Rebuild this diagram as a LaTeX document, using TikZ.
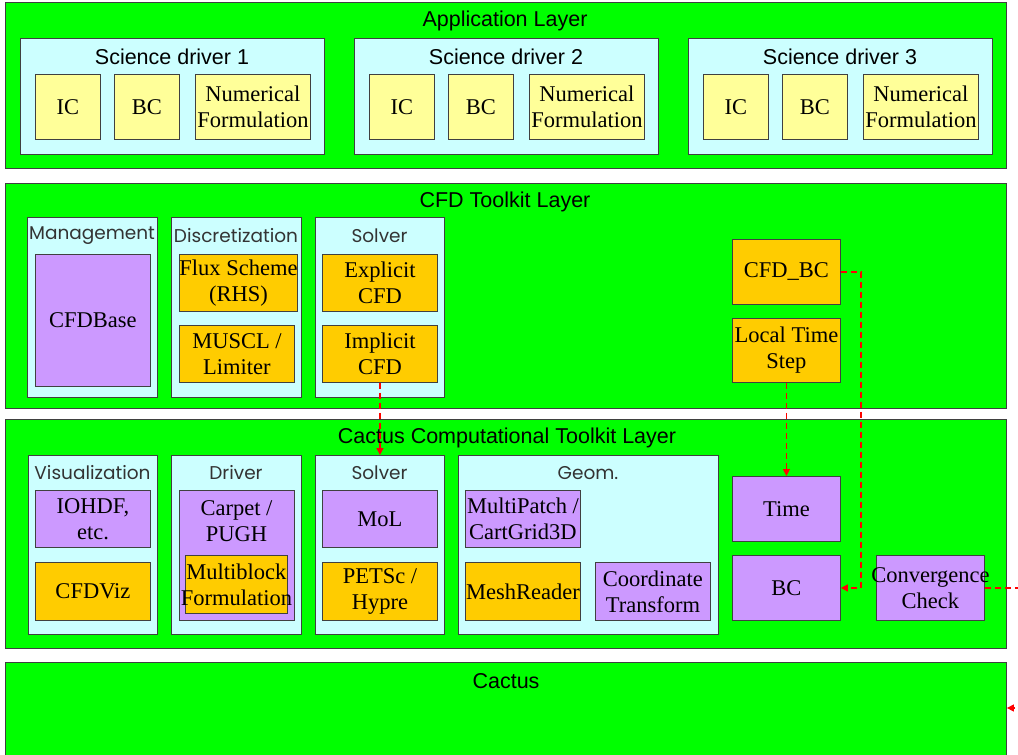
\documentclass[tikz,border=0pt]{standalone}
\usepackage{fontspec}
\setmainfont{Liberation Serif}
\newfontfamily\arialf{Liberation Sans}
\newfontfamily\gothicf{Poppins}
\usetikzlibrary{arrows.meta}
\definecolor{lgreen}{HTML}{00FF00}
\definecolor{lcyan}{HTML}{CCFFFF}
\definecolor{lyel}{HTML}{FFFF99}
\definecolor{lorange}{HTML}{FFCC00}
\definecolor{lpurple}{HTML}{CC99FF}
\definecolor{edge}{HTML}{404040}
\definecolor{gtext}{HTML}{333333}
\tikzset{
  base/.style={draw=edge, line width=0.9pt, anchor=north west, inner sep=0pt, align=center},
  layer/.style={base, fill=lgreen},
  group/.style={base, fill=lcyan},
  ybox/.style={base, fill=lyel, font=\fontsize{22.5}{26}\selectfont},
  obox/.style={base, fill=lorange, font=\fontsize{22.5}{26}\selectfont},
  pbox/.style={base, fill=lpurple, font=\fontsize{22.5}{26}\selectfont},
  ltitle/.style={font=\arialf\fontsize{21.5}{24}\selectfont, inner sep=0pt},
  gtitle/.style={font=\gothicf\fontsize{18.5}{20}\selectfont, text=gtext, inner sep=0pt},
  link/.style={red, line width=1.4pt, dash pattern=on 6pt off 4pt, -{Triangle[length=7pt,width=7pt]}},
}
\begin{document}
\begin{tikzpicture}[x=1pt,y=-1pt]
\useasboundingbox (0,0) rectangle (1018,755);
\clip (0,0) rectangle (1018,755);
% ---------- Application layer
\node[layer, minimum width=1001pt, minimum height=166pt] (app) at (5,2) {};
\node[ltitle] (appt) at (505,21) {Application Layer};
\foreach \i/\x in {1/20,2/354,3/688}{
  \node[group, minimum width=304pt, minimum height=116pt] (sd\i) at (\x,38) {};
  \node[ltitle] (sdt\i) at (\x+152,57) {Science driver \i};
  \node[ybox, minimum width=65pt, minimum height=65pt] (ic\i) at (\x+15,74) {IC};
  \node[ybox, minimum width=65pt, minimum height=65pt] (bc\i) at (\x+94,74) {BC};
  \node[ybox, minimum width=115pt, minimum height=65pt] (nf\i) at (\x+175,74) {Numerical\\Formulation};
}
% ---------- CFD toolkit layer
\node[layer, minimum width=1001pt, minimum height=225pt] (cfd) at (5,183) {};
\node[ltitle] (cfdt) at (505,202) {CFD Toolkit Layer};
\node[group, minimum width=130pt, minimum height=180pt] (mgmt) at (27,217) {};
\node[gtitle] (mgmtt) at (92,236) {Management};
\node[pbox, minimum width=115pt, minimum height=132pt] (cfdbase) at (35,254) {CFDBase};
\node[group, minimum width=130pt, minimum height=180pt] (disc) at (171,217) {};
\node[gtitle] (disct) at (236,236) {Discretization};
\node[obox, minimum width=115pt, minimum height=57pt] (flux) at (179,254) {Flux Scheme\\(RHS)};
\node[obox, minimum width=115pt, minimum height=57pt] (muscl) at (179,325) {MUSCL /\\Limiter};
\node[group, minimum width=129pt, minimum height=180pt] (solv1) at (315,217) {};
\node[gtitle] (solv1t) at (379.5,236) {Solver};
\node[obox, minimum width=115pt, minimum height=57pt] (expl) at (322,254) {Explicit\\CFD};
\node[obox, minimum width=115pt, minimum height=57pt] (impl) at (322,325) {Implicit\\CFD};
\node[obox, minimum width=108pt, minimum height=65pt] (cfdbc) at (732,239) {CFD\_BC};
\node[obox, minimum width=108pt, minimum height=64pt] (lts) at (732,318) {Local Time\\Step};
% ---------- Cactus computational toolkit layer
\node[layer, minimum width=1001pt, minimum height=229pt] (cct) at (5,419) {};
\node[ltitle] (cctt) at (507,438) {Cactus Computational Toolkit Layer};
\node[group, minimum width=129pt, minimum height=179pt] (vis) at (28,455) {};
\node[gtitle] (vist) at (92.5,473) {Visualization};
\node[pbox, minimum width=115pt, minimum height=57pt] (iohdf) at (35,490) {IOHDF,\\etc.};
\node[obox, minimum width=115pt, minimum height=58pt] (cfdviz) at (35,562) {CFDViz};
\node[group, minimum width=130pt, minimum height=179pt] (drv) at (171,455) {};
\node[gtitle] (drvt) at (236,473) {Driver};
\node[pbox, minimum width=115pt, minimum height=130pt] (carpet) at (179,490) {};
\node[font=\fontsize{22.5}{26}\selectfont, align=center, inner sep=0pt] (carpett) at (236.5,521) {Carpet /\\PUGH};
\node[obox, minimum width=102pt, minimum height=58pt] (mb) at (185,555) {\makebox[100pt]{Multiblock}\\\makebox[100pt]{Formulation}};
\node[group, minimum width=129pt, minimum height=179pt] (solv2) at (315,455) {};
\node[gtitle] (solv2t) at (379.5,473) {Solver};
\node[pbox, minimum width=115pt, minimum height=57pt] (mol) at (322,490) {MoL};
\node[obox, minimum width=115pt, minimum height=58pt] (petsc) at (322,562) {PETSc /\\Hypre};
\node[group, minimum width=260pt, minimum height=179pt] (geom) at (458,455) {};
\node[gtitle] (geomt) at (588,473) {Geom.};
\node[pbox, minimum width=115pt, minimum height=57pt] (mp) at (465,490) {MultiPatch /\\CartGrid3D};
\node[obox, minimum width=115pt, minimum height=58pt] (mesh) at (465,562) {MeshReader};
\node[pbox, minimum width=115pt, minimum height=58pt] (coord) at (595,562) {Coordinate\\Transform};
\node[pbox, minimum width=108pt, minimum height=65pt] (time) at (732,476) {Time};
\node[pbox, minimum width=108pt, minimum height=65pt] (bc) at (732,555) {BC};
\node[pbox, minimum width=108pt, minimum height=65pt] (cc) at (876,555) {\makebox[106pt]{Convergence}\\\makebox[106pt]{Check}};
% ---------- Cactus layer
\node[layer, minimum width=1001pt, minimum height=110pt] (cactus) at (5,662) {};
\node[ltitle] (cactust) at (506,681) {Cactus};
% ---------- connectors
\coordinate (turn) at (861,400);
\coordinate (outr) at (1040,600);
\coordinate (cy) at (0,708);
\draw[link] (impl.south) -- (solv2.north);
\draw[link] (lts.south) -- (time.north);
\draw[link] (cfdbc.east) -| (turn) |- (bc.east);
\draw[link] (cc.east) -| (outr) |- (cactus.east |- cy);
\end{tikzpicture}
\end{document}
